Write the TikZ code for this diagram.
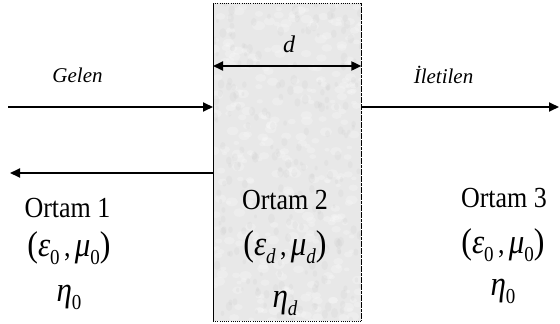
\documentclass[tikz,border=0pt]{standalone}
\usepackage{fontspec}
\setmainfont{Liberation Serif}
\usetikzlibrary{arrows.meta}
\newcommand\sbs[1]{\raisebox{-0.3em}{\fontsize{19}{19}\selectfont #1}}
\newcommand\sbi[1]{\raisebox{-0.3em}{\fontsize{19}{19}\selectfont\itshape #1}}
\newcommand\bigpar[1]{{\fontsize{32}{32}\selectfont #1}}
\newcommand\gr[1]{{\fontsize{31}{31}\selectfont\itshape #1}}
\begin{document}
\begin{tikzpicture}[x=1pt,y=-1pt,
  lbl/.style={font=\fontsize{21}{21}\selectfont\itshape, inner sep=0pt, anchor=base},
  txt/.style={font=\fontsize{26}{26}\selectfont, inner sep=0pt, anchor=base, yscale=1.12},
  wave/.style={line width=1.8pt, -{Triangle[length=10pt,width=9pt]}},
  slabfill/.style={fill=black!9, draw=none, inner sep=0pt, minimum width=148pt, minimum height=318pt},
  dotline/.style={line width=1pt, dash pattern=on 1pt off 1.2pt},
  ]
\useasboundingbox (0,0) rectangle (560,324);
\node[slabfill, anchor=north west] (slab) at (213,3) {};
% mottled texture of the slab
\begin{scope}
  \clip (slab.north west) rectangle (slab.south east);
  \pgfmathsetseed{17}
  \foreach \i in {1,...,320}{
    \pgfmathsetmacro{\px}{213+148*rnd}
    \pgfmathsetmacro{\py}{3+318*rnd}
    \pgfmathsetmacro{\rr}{2.5+4*rnd}
    \fill[white, opacity=0.22] (\px,\py) ellipse ({\rr pt} and {0.7*\rr pt});
  }
  \foreach \i in {1,...,240}{
    \pgfmathsetmacro{\px}{213+148*rnd}
    \pgfmathsetmacro{\py}{3+318*rnd}
    \pgfmathsetmacro{\rr}{2+3*rnd}
    \fill[black!22, opacity=0.18] (\px,\py) ellipse ({0.7*\rr pt} and {\rr pt});
  }
\end{scope}
\draw[line width=1pt] (slab.north west) -- (slab.south west);
\draw[line width=1.3pt, dash pattern=on 3pt off 0.6pt] (slab.north east) -- (slab.south east);
\draw[dotline] (slab.north west) -- (slab.north east);
\draw[dotline] (slab.south west) -- (slab.south east);
% arrows
\coordinate (inS) at (8,107);
\coordinate (rfE) at (10,173);
\coordinate (trE) at (559,107);
\coordinate (dy) at (0,66);
\draw[wave] (inS) -- (slab.west |- inS);
\draw[wave] (slab.west |- rfE) -- (rfE);
\draw[wave] (slab.east |- trE) -- (trE);
\draw[line width=1.8pt, {Triangle[length=10pt,width=9pt]}-{Triangle[length=10pt,width=9pt]}] (slab.west |- dy) -- (slab.east |- dy);
% labels
\node[lbl] (gelen) at (77.5,82) {Gelen};
\node[lbl] (iletilen) at (443.5,83) {İletilen};
\node[font=\fontsize{24}{24}\selectfont\itshape, inner sep=0pt, anchor=base] (dlbl) at (289,52) {d};
% medium 1
\node[txt] (o1) at (67.5,217) {Ortam 1};
\node[txt] (p1) at (69,256) {\bigpar{(}\gr{ε}\sbs{0}\,,\,\gr{μ}\sbs{0}\bigpar{)}};
\node[txt] (h1) at (69,301) {\gr{η}\sbs{0}};
% medium 2
\node[txt] (o2) at (285,209) {Ortam 2};
\node[txt] (p2) at (285,255) {\bigpar{(}\gr{ε}\sbi{d}\,,\,\gr{μ}\sbi{d}\bigpar{)}};
\node[txt] (h2) at (285,307) {\gr{η}\sbi{d}};
% medium 3
\node[txt] (o3) at (504,207) {Ortam 3};
\node[txt] (p3) at (503,253) {\bigpar{(}\gr{ε}\sbs{0}\,,\,\gr{μ}\sbs{0}\bigpar{)}};
\node[txt] (h3) at (503,295) {\gr{η}\sbs{0}};
\end{tikzpicture}
\end{document}
